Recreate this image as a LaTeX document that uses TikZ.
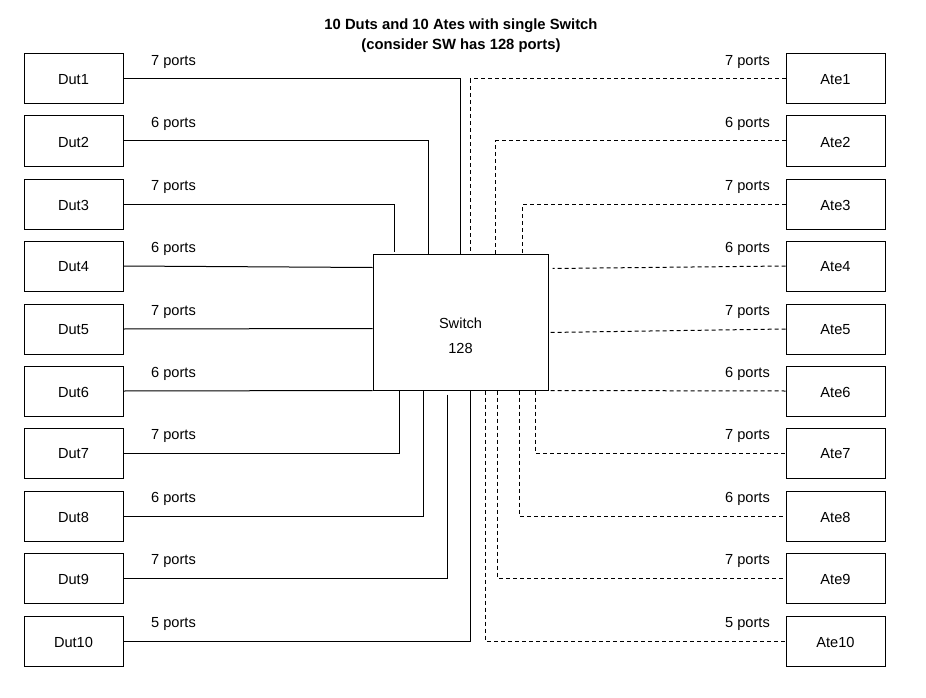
\documentclass[tikz,border=0pt]{standalone}
\usepackage{fontspec}
\setmainfont{Liberation Sans}
\usetikzlibrary{calc}
\newcommand{\lblfont}{\fontsize{14.6}{17}\selectfont}
\newcommand{\ttlfont}{\fontsize{14.8}{17}\selectfont\bfseries}
\begin{document}
\begin{tikzpicture}[x=1pt,y=-1pt,
  box/.style={draw=black, line width=1pt, minimum width=99pt, minimum height=50pt, inner sep=0pt},
  swbox/.style={draw=black, line width=1pt, minimum width=175pt, minimum height=136pt, inner sep=0pt},
  wire/.style={draw=black, line width=1pt},
  dwire/.style={wire, dash pattern=on 4pt off 3pt},
  lbl/.style={font=\lblfont, inner sep=0pt}]
\useasboundingbox (0,0) rectangle (926,698);
% title
\node[font=\ttlfont, inner sep=0pt] (t1) at (461,26) {10 Duts and 10 Ates with single Switch};
\node[font=\ttlfont, inner sep=0pt] (t2) at (461,46) {(consider SW has 128 ports)};
% switch
\node[swbox] (sw) at (460.5,322) {};
\node[lbl] (swt) at (460.5,323) {Switch};
\node[lbl] (swn) at (460.5,348) {128};
% boxes
\foreach \i/\y in {1/79,2/141,3/204,4/266,5/329,6/391,7/453,8/516,9/578,10/641}{
  \node[box] (d\i) at (73.5,\y) {};
  \node[lbl] (dt\i) at (73.5,\y+1) {Dut\i};
  \node[box] (a\i) at (835.5,\y) {};
  \node[lbl] (at\i) at (835.5,\y+1) {Ate\i};
}
% labels
\foreach \i/\p in {1/7,2/6,3/7,4/6,5/7,6/6,7/7,8/6,9/7,10/5}{
  \node[lbl] (ld\i) at ($(d\i.east)+(50,-17.5)$) {\p{} ports};
  \node[lbl] (la\i) at ($(a\i.west)+(-38,-17.5)$) {\p{} ports};
}
% Dut wires
\draw[wire] (d1.east) -| ($(sw.north west)+(88,0)$);
\draw[wire] (d2.east) -| ($(sw.north west)+(56,0)$);
\draw[wire] (d3.east) -| ($(sw.north west)+(22,-2)$);
\draw[wire] (d4.east) -- ($(sw.north west)+(0,14)$);
\draw[wire] (d5.east) -- ($(sw.north west)+(0,75)$);
\draw[wire] (d6.east) -- (sw.south west);
\draw[wire] ($(sw.south west)+(27,0)$) |- (d7.east);
\draw[wire] ($(sw.south west)+(51,0)$) |- (d8.east);
\draw[wire] ($(sw.south west)+(75,4)$) |- (d9.east);
\draw[wire] ($(sw.south west)+(98,0)$) |- (d10.east);
% Ate wires
\draw[dwire] (a1.west) -| ($(sw.north west)+(98,0)$);
\draw[dwire] (a2.west) -| ($(sw.north west)+(123,0)$);
\draw[dwire] (a3.west) -| ($(sw.north west)+(150,0)$);
\draw[dwire] (a4.west) -- ($(sw.north east)+(4,15)$);
\draw[dwire] (a5.west) -- ($(sw.north east)+(0,79)$);
\draw[dwire] (a6.west) -- (sw.south east);
\draw[dwire] ($(sw.south west)+(163,0)$) |- (a7.west);
\draw[dwire] ($(sw.south west)+(147,0)$) |- (a8.west);
\draw[dwire] ($(sw.south west)+(125,0)$) |- (a9.west);
\draw[dwire] ($(sw.south west)+(113,0)$) |- (a10.west);
\end{tikzpicture}
\end{document}
